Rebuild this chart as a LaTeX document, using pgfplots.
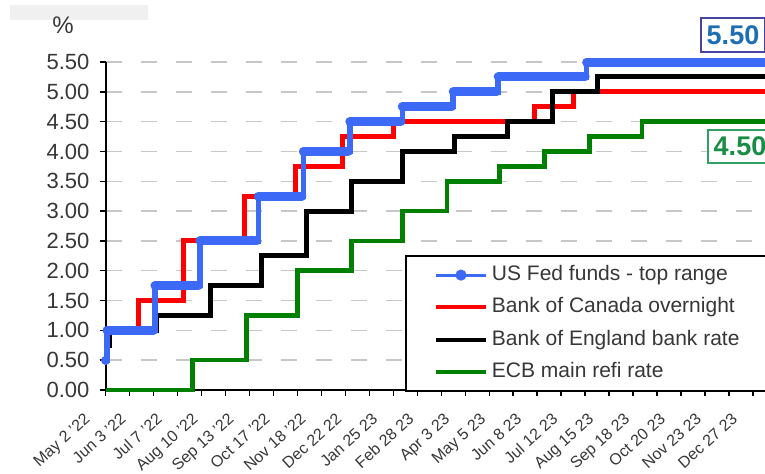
\documentclass[border=0pt]{standalone}
\usepackage{fontspec}
\setmainfont{Liberation Sans}
\usepackage{pgfplots}
\pgfplotsset{compat=1.18}

\definecolor{fedblue}{RGB}{60,105,245}
\definecolor{bocred}{RGB}{255,0,0}
\definecolor{ecbgreen}{RGB}{0,128,0}
\definecolor{labgray}{RGB}{55,55,55}
\definecolor{boxblue}{RGB}{70,70,160}
\definecolor{txtblue}{RGB}{30,110,180}
\definecolor{boxgreen}{RGB}{50,160,100}
\definecolor{txtgreen}{RGB}{25,140,70}

% x = business days since May 2 2022
\begin{document}
\begin{tikzpicture}
\useasboundingbox (0,0) rectangle (382.5pt,236.5pt);
\clip (0,0) rectangle (382.5pt,236.5pt);
\fill[black!6] (5pt,226.5pt) rectangle (74pt,234pt);
\node[font=\fontsize{12}{14}\selectfont, text=labgray] at (31.5pt,224pt) {\%};

\begin{axis}[
    at={(52.75pt,41.5pt)}, anchor=south west,
    scale only axis,
    width=329.75pt, height=164pt,
    xmin=0, xmax=440,
    ymin=0, ymax=5.5,
    clip=false,
    axis lines*=left,
    axis line style={black, line width=1pt},
    tick align=outside,
    major tick length=3pt,
    minor tick length=3pt,
    tick style={black, line width=0.7pt},
    ytick={0,0.5,...,5.5},
    /pgf/number format/assume math mode=true,
    yticklabel style={/pgf/number format/fixed, /pgf/number format/fixed zerofill,
        /pgf/number format/precision=2, xshift=-1.5pt,
        font=\fontsize{11}{13}\selectfont, text=labgray},
    ymajorgrids,
    grid style={black!22, line width=0.75pt, dash pattern=on 8pt off 9.5pt},
    xtick={0,24,...,432},
    xticklabels={May 2 '22,Jun 3 '22,Jul 7 '22,Aug 10 '22,Sep 13 '22,Oct 17 '22,Nov 18 '22,Dec 22 22,Jan 25 23,Feb 28 23,Apr 3 23,May 5 23,Jun 8 23,Jul 12 23,Aug 15 23,Sep 18 23,Oct 20 23,Nov 23 23,Dec 27 23},
    major x tick style={draw=none},
    minor xtick={0,16,...,432},
    minor x tick style={black, line width=0.7pt},
    xticklabel style={xshift=-11pt, yshift=-6.5pt, rotate=42, anchor=north east,
        inner sep=1pt, font=\fontsize{8}{10}\selectfont, text=labgray},
    legend style={at={(0.4541,0.4116)}, anchor=north west, draw=black, line width=1pt,
        fill=white, inner xsep=14pt, inner ysep=2.3pt, row sep=1.65pt,
        nodes={inner sep=2pt, text height=8pt, text depth=2.5pt},
        font=\fontsize{10.5}{12}\selectfont, text=labgray},
    legend cell align=left,
    legend image code/.code={\draw[mark repeat=2,mark phase=2,#1] plot coordinates {(0pt,0pt)(12.5pt,0pt)(25pt,0pt)};},
]
\addlegendimage{fedblue, line width=1.5pt, mark=*, mark size=2pt}
\addlegendentry{US Fed funds - top range}
\addlegendimage{bocred, line width=2pt}
\addlegendentry{Bank of Canada overnight}
\addlegendimage{black, line width=2pt}
\addlegendentry{Bank of England bank rate}
\addlegendimage{ecbgreen, line width=2pt}
\addlegendentry{ECB main refi rate}

% Bank of Canada overnight
\addplot[forget plot, const plot, bocred, line width=2.5pt] coordinates {
(0,1.0)(22,1.5)(52,2.5)(93,3.25)(127,3.75)(158,4.25)(192,4.5)(286,4.75)(312,5.0)(440,5.0)};
% Bank of England bank rate
\addplot[forget plot, const plot, black, line width=2.5pt] coordinates {
(0,0.75)(3,1.0)(34,1.25)(70,1.75)(104,2.25)(134,3.0)(164,3.5)(198,4.0)(233,4.25)(268,4.5)(298,5.0)(328,5.25)(440,5.25)};
% ECB main refi rate
\addplot[forget plot, const plot, ecbgreen, line width=2.25pt] coordinates {
(0,0)(58,0.5)(94,1.25)(128,2.0)(164,2.5)(198,3.0)(228,3.5)(263,3.75)(293,4.0)(323,4.25)(358,4.5)(440,4.5)};
% US Fed funds - top range
\addplot[forget plot, const plot, fedblue, line width=2.75pt] coordinates {
(0,0.5)(1,1.0)(33,1.75)(63,2.5)(102,3.25)(132,4.0)(163,4.5)(198,4.75)(232,5.0)(262,5.25)(321,5.5)(440,5.5)};
% daily markers of the Fed series, drawn as thick level segments
\addplot[forget plot, fedblue, line width=4.5pt, line cap=round, unbounded coords=jump] coordinates {
(0,0.5)(0.05,0.5)(0.5,nan)
(1,1.0)(32,1.0)(32.5,nan)
(33,1.75)(62,1.75)(62.5,nan)
(63,2.5)(101,2.5)(101.5,nan)
(102,3.25)(131,3.25)(131.5,nan)
(132,4.0)(162,4.0)(162.5,nan)
(163,4.5)(197,4.5)(197.5,nan)
(198,4.75)(231,4.75)(231.5,nan)
(232,5.0)(261,5.0)(261.5,nan)
(262,5.25)(320,5.25)(320.5,nan)
(321,5.5)(440,5.5)};
\end{axis}

\node[draw=boxblue, line width=1pt, fill=white, text=txtblue, inner sep=0pt,
    minimum width=32pt, minimum height=17pt, font=\bfseries\fontsize{13.5}{15}\selectfont]
    at (366.5pt,219pt) {5.50};
\node[draw=boxgreen, line width=1pt, fill=white, text=txtgreen, inner sep=0pt,
    minimum width=32pt, minimum height=16.5pt, font=\bfseries\fontsize{13.5}{15}\selectfont]
    at (370pt,163.5pt) {4.50};
\end{tikzpicture}
\end{document}
